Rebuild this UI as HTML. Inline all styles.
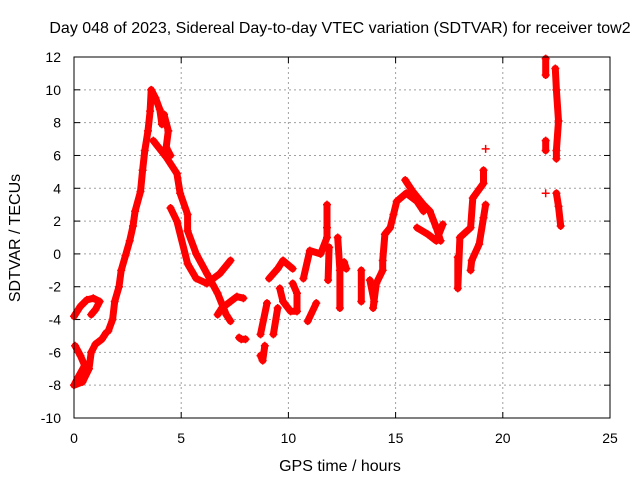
<!DOCTYPE html>
<html><head><meta charset="utf-8"><style>
html,body{margin:0;padding:0;background:#fff;width:640px;height:480px;overflow:hidden}
svg text{font-family:"Liberation Sans",sans-serif;font-size:14px;fill:#000}
</style></head><body>
<svg id="chart" width="640" height="480" xmlns="http://www.w3.org/2000/svg">
<text x="340" y="33" text-anchor="middle" style="font-size:16px">Day 048 of 2023, Sidereal Day-to-day VTEC variation (SDTVAR) for receiver tow2</text>
<text x="340" y="471" text-anchor="middle" style="font-size:16px">GPS time / hours</text>
<text x="0" y="0" transform="translate(20,238) rotate(-90)" text-anchor="middle" style="font-size:16px">SDTVAR / TECUs</text>
<g id="grid"></g>
<g id="ticks"></g>
<g id="series"></g>
<rect x="74" y="57" width="536" height="361" fill="none" stroke="#000" stroke-width="1"/>
</svg>
<script>
const xTicks=[0,5,10,15,20,25];
const yTicks=[-10,-8,-6,-4,-2,0,2,4,6,8,10,12];
const seg1t=[0,0.3,0.6,0.9,1.2,1.0,0.8];
const seg1v=[-3.8,-3.2,-2.8,-2.7,-2.9,-3.4,-3.7];
const seg2t=[0.05,0.3,0.5,0.2,0,0.4,0.7,0.8,1.0,1.3,1.5];
const seg2v=[-5.6,-6.2,-6.8,-7.5,-8,-7.8,-7,-6,-5.5,-5.2,-4.8];
const seg3t=[1.6,1.8,1.9,2.1,2.2,2.4,2.6,2.75,2.85,3.1,3.2,3.3,3.45,3.55,3.6,3.8,4.0,4.1,4.2,4.4,4.3,4.5];
const seg3v=[-4.7,-4,-2.9,-2,-1.0,-0.1,0.8,1.7,2.6,3.8,5.1,6.3,7.5,8.7,10,9.5,8.8,7.9,8.5,7.5,6.5,6];
const seg4t=[3.7,4.3,4.8,4.95,5.3,5.3,5.7,6.2,6.7,7.1,7.3];
const seg4v=[6.9,5.9,4.9,3.7,2.4,1.4,0,-1.2,-2.4,-3.7,-4.1];
const seg5t=[4.5,4.8,5.3,5.7,6.2,6.8,7.3];
const seg5v=[2.8,2,-0.6,-1.5,-1.8,-1.2,-0.4];
const seg6t=[6.7,6.9,7.3,7.6,7.9];
const seg6v=[-3.7,-3.3,-2.9,-2.6,-2.7];
const seg7t=[7.7,7.8,8.0];
const seg7v=[-5.1,-5.2,-5.2];
const seg8t=[8.7,8.8,8.9];
const seg8v=[-6.2,-6.5,-5.6];
const seg9t=[8.7,9.0];
const seg9v=[-4.9,-3.0];
const seg10t=[9.3,9.5];
const seg10v=[-4.9,-3.3];
const seg11t=[9.1,9.5,9.75,10.2];
const seg11v=[-1.5,-0.9,-0.4,-0.9];
const seg12t=[9.6,9.75,10.1,10.4,10.4,10.2];
const seg12v=[-2.1,-2.9,-3.5,-3.5,-2.4,-1.8];
const seg13t=[10.9,11.3];
const seg13v=[-4.1,-3.0];
const seg14t=[10.7,11.0,11.5,11.8,11.8,11.8];
const seg14v=[-1.5,0.2,0,1.0,1.6,3.0];
const seg15t=[11.9,11.85];
const seg15v=[0.4,-1.6];
const seg16t=[12.3,12.4,12.4];
const seg16v=[1.0,-1.0,-3.3];
const seg17t=[12.6,12.7];
const seg17v=[-0.5,-0.9];
const seg18t=[13.4,13.4];
const seg18v=[-1.0,-2.9];
const seg19t=[13.8,14.0,13.95,14.1,14.4,14.4,14.5,14.75,14.9,15.05,15.5,16.0,16.3];
const seg19v=[-1.6,-2.9,-3.3,-1.8,-1.0,-0.4,1.2,1.6,2.4,3.2,3.7,3.2,2.6];
const seg20t=[15.45,15.8,16.3,16.6,16.9,17.1];
const seg20v=[4.5,3.8,3.0,2.6,1.6,0.8];
const seg21t=[16.0,16.5,16.9,17.2];
const seg21v=[1.6,1.2,0.8,1.8];
const seg22t=[17.9,17.9,18.0,18.5,18.6,19.1,19.1];
const seg22v=[-0.2,-2.1,1.0,1.6,3.4,4.3,5.1];
const seg23t=[18.5,18.55,18.9,19.1,19.2];
const seg23v=[-1.0,-0.4,0.6,2.2,3.0];
const seg24t=[19.2];
const seg24v=[6.4];
const seg25t=[22.0,22.0];
const seg25v=[11.9,10.9];
const seg26t=[22.0,22.0];
const seg26v=[6.9,6.3];
const seg27t=[22.0];
const seg27v=[3.7];
const seg28t=[22.45,22.5,22.6,22.5,22.5];
const seg28v=[11.3,10,8.1,6.3,5.8];
const seg29t=[22.5,22.6,22.7];
const seg29v=[3.7,2.9,1.7];
const segT=[seg1t,seg2t,seg3t,seg4t,seg5t,seg6t,seg7t,seg8t,seg9t,seg10t,seg11t,seg12t,seg13t,seg14t,seg15t,seg16t,seg17t,seg18t,seg19t,seg20t,seg21t,seg22t,seg23t,seg24t,seg25t,seg26t,seg27t,seg28t,seg29t];
const segV=[seg1v,seg2v,seg3v,seg4v,seg5v,seg6v,seg7v,seg8v,seg9v,seg10v,seg11v,seg12v,seg13v,seg14v,seg15v,seg16v,seg17v,seg18v,seg19v,seg20v,seg21v,seg22v,seg23v,seg24v,seg25v,seg26v,seg27v,seg28v,seg29v];

const NS='http://www.w3.org/2000/svg';
const X0=74,X1=610,Y0=418,Y1=57;
function xs(t){return X0+(t-0)/(25-0)*(X1-X0);}
function ys(v){return Y0-(v+10)/(22)*(Y0-Y1);}
function mk(tag,attrs,parent){const e=document.createElementNS(NS,tag);for(const k in attrs)e.setAttribute(k,attrs[k]);parent.appendChild(e);return e;}
const grid=document.getElementById('grid'),ticks=document.getElementById('ticks'),series=document.getElementById('series');
xTicks.forEach(t=>{
  const x=xs(t);
  if(t>0&&t<25){const g=mk('line',{x1:x,x2:x,y1:Y1,y2:Y0,stroke:'#a0a0a0','stroke-dasharray':'2,3'},grid);
  
  }
  mk('line',{x1:x,x2:x,y1:Y0,y2:Y0-6,stroke:'#000'},ticks);
  mk('line',{x1:x,x2:x,y1:Y1,y2:Y1+6,stroke:'#000'},ticks);
  const l=mk('text',{x:x,y:443,'text-anchor':'middle'},ticks);l.textContent=t;
  
  
});
yTicks.forEach(v=>{
  const y=ys(v);
  if(v>-10&&v<12){const g=mk('line',{x1:X0,x2:X1,y1:y,y2:y,stroke:'#a0a0a0','stroke-dasharray':'2,3'},grid);
  
  }
  mk('line',{x1:X0,x2:X0+6,y1:y,y2:y,stroke:'#000'},ticks);
  mk('line',{x1:X1,x2:X1-6,y1:y,y2:y,stroke:'#000'},ticks);
  const l=mk('text',{x:61,y:y+5,'text-anchor':'end'},ticks);l.textContent=v;
  
  
});
segT.forEach((ts,i)=>{
  const vs=segV[i];
  const pts=ts.map((t,j)=>xs(t).toFixed(1)+','+ys(vs[j]).toFixed(1)).join(' ');
  if(ts.length>1){
    const p=mk('polyline',{points:pts,fill:'none',stroke:'#f00','stroke-width':7,'stroke-linejoin':'round','stroke-linecap':'round'},series);
    
    
  }
  ts.forEach((t,j)=>{
    const x=xs(t),y=ys(vs[j]);
    const m=mk('path',{d:`M${x-4},${y}H${x+4}M${x},${y-4}V${y+4}`,stroke:'#f00','stroke-width':1.5},series);
    
    
  });
});
</script>
</body></html>
